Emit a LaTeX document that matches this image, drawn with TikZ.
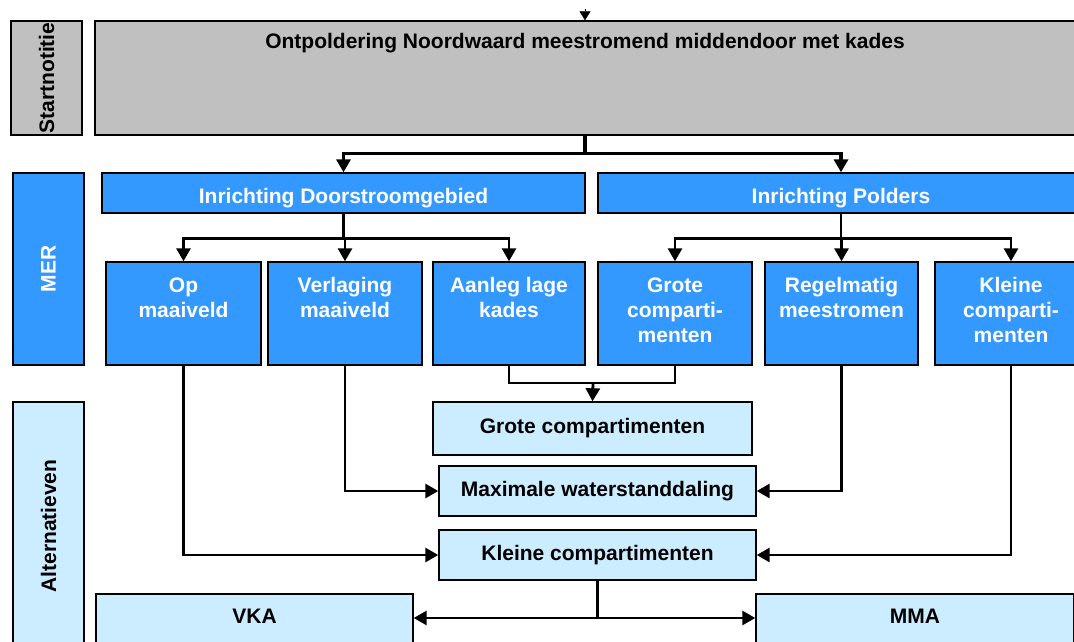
\documentclass[tikz,border=0pt]{standalone}
\usepackage{fontspec}
\setmainfont{Liberation Sans}
\usetikzlibrary{positioning, arrows.meta}
\definecolor{greyfill}{HTML}{C0C0C0}
\definecolor{merblue}{HTML}{3399FF}
\definecolor{altblue}{HTML}{CCECFF}
\tikzset{
  % outlined box, fill colour as argument
  panel/.style={draw=black, fill=#1, line width=1.4pt, inner sep=0pt,
                font=\fontsize{21}{25}\selectfont\bfseries, align=center},
  % text hanging from the top edge of a box
  toptext/.style={anchor=north, align=center, inner sep=0pt, text=#1,
                  font=\fontsize{21}{25}\selectfont\bfseries},
  % rotated phase name in the left column
  phase/.style={rotate=90, inner sep=0pt, text=#1,
                font=\fontsize{21}{24}\selectfont\bfseries},
  % connectors
  flow/.style={line width=2.8pt, -{Triangle[length=13pt,width=14pt]}},
  flow thick/.style={flow, line width=3.4pt},
  link/.style={line width=2.8pt},
}

\begin{document}
\begin{tikzpicture}[x=1pt, y=-1pt]
  \useasboundingbox (0,0) rectangle (1074,641);
  \clip (0,0) rectangle (1074,641);
  % phase column
  \node[panel=greyfill, minimum width=71pt, minimum height=114pt,
        label={[phase=black]center:Startnotitie}] (lstart) at (46.5,78) {};
  \node[panel=merblue, minimum width=71pt, minimum height=192pt,
        label={[phase=white]center:MER}] (lmer) at (48.5,269) {};
  \node[panel=altblue, minimum width=71pt, minimum height=248pt,
        label={[phase=black]center:Alternatieven}] (lalt) at (48.5,526) {};

  % startnotitie
  \coordinate (in) at (585,9);
  \node[panel=greyfill, minimum width=980pt, minimum height=114pt,
        label={[toptext=black, yshift=-13pt]north:Ontpoldering Noordwaard meestromend middendoor met kades}]
        (start) at (585,78) {};

  % MER: two directions
  \node[panel=merblue, text=white, text height=20pt, text depth=0pt,
        minimum width=483pt, minimum height=40pt]
        (door) at (343.5,193) {Inrichting Doorstroomgebied};
  \node[panel=merblue, text=white, text height=20pt, text depth=0pt,
        minimum width=486pt, minimum height=40pt]
        (pold) at (841,193) {Inrichting Polders};

  % MER: six variants
  \node[panel=merblue, minimum width=155pt, minimum height=103pt,
        label={[toptext=white, yshift=-16pt]north:Op\\maaiveld}] (op) at (183.5,313.5) {};
  \node[panel=merblue, minimum width=154pt, minimum height=103pt,
        label={[toptext=white, yshift=-16pt]north:Verlaging\\maaiveld}] (verl) at (345,313.5) {};
  \node[panel=merblue, minimum width=152pt, minimum height=103pt,
        label={[toptext=white, yshift=-16pt]north:Aanleg lage\\kades}] (aanleg) at (509,313.5) {};
  \node[panel=merblue, minimum width=154pt, minimum height=103pt,
        label={[toptext=white, yshift=-16pt]north:Grote\\comparti-\\menten}] (grote) at (675,313.5) {};
  \node[panel=merblue, minimum width=153pt, minimum height=103pt,
        label={[toptext=white, yshift=-16pt]north:Regelmatig\\meestromen}] (regel) at (841.5,313.5) {};
  \node[panel=merblue, minimum width=152pt, minimum height=103pt,
        label={[toptext=white, yshift=-16pt]north:Kleine\\comparti-\\menten}] (klein) at (1011,313.5) {};

  % alternatives
  \node[panel=altblue, minimum width=319pt, minimum height=53pt]
        (altgrote) at (592.5,428.5) {Grote compartimenten};
  \node[panel=altblue, minimum width=317pt, minimum height=50pt]
        (maxw) at (597.5,491) {Maximale waterstanddaling};
  \node[panel=altblue, minimum width=317pt, minimum height=50pt]
        (altklein) at (597.5,555) {Kleine compartimenten};
  \node[panel=altblue, minimum width=317pt, minimum height=66pt,
        label={[toptext=black, yshift=-16pt]north:VKA}] (vka) at (254.5,627) {};
  \node[panel=altblue, minimum width=318pt, minimum height=66pt,
        label={[toptext=black, yshift=-16pt]north:MMA}] (mma) at (915,627) {};

  % connectors from the top
  \draw[flow, line width=0.5pt, -{Triangle[length=9pt,width=11pt]}] (in) -- (start.north -| in);
  \draw[flow thick] (start.south -| in) -- ++(0,18) -| (door.north);
  \draw[flow thick] (start.south -| in) -- ++(0,18) -| (pold.north);

  % split into variants
  \foreach \v in {op, verl, aanleg}
    \draw[flow] (door.south) -- ++(0,25) -| (\v.north);
  \foreach \v in {grote, regel, klein}
    \draw[flow] (pold.south) -- ++(0,25) -| (\v.north);

  % variants to alternatives
  \coordinate (join) at (593,383);
  \draw[link] (aanleg.south) |- (join) -| (grote.south);
  \draw[flow] (join) -- (altgrote.north);
  \draw[flow] (verl.south) |- (maxw.west);
  \draw[flow] (regel.south) |- (maxw.east);
  \draw[flow] (op.south) |- (altklein.west);
  \draw[flow] (klein.south) |- (altklein.east);

  % to VKA and MMA
  \coordinate (fork) at (597.5,618);
  \draw[link] (altklein.south) -- (fork);
  \draw[flow] (fork) -- (vka.east |- fork);
  \draw[flow] (fork) -- (mma.west |- fork);
\end{tikzpicture}
\end{document}
